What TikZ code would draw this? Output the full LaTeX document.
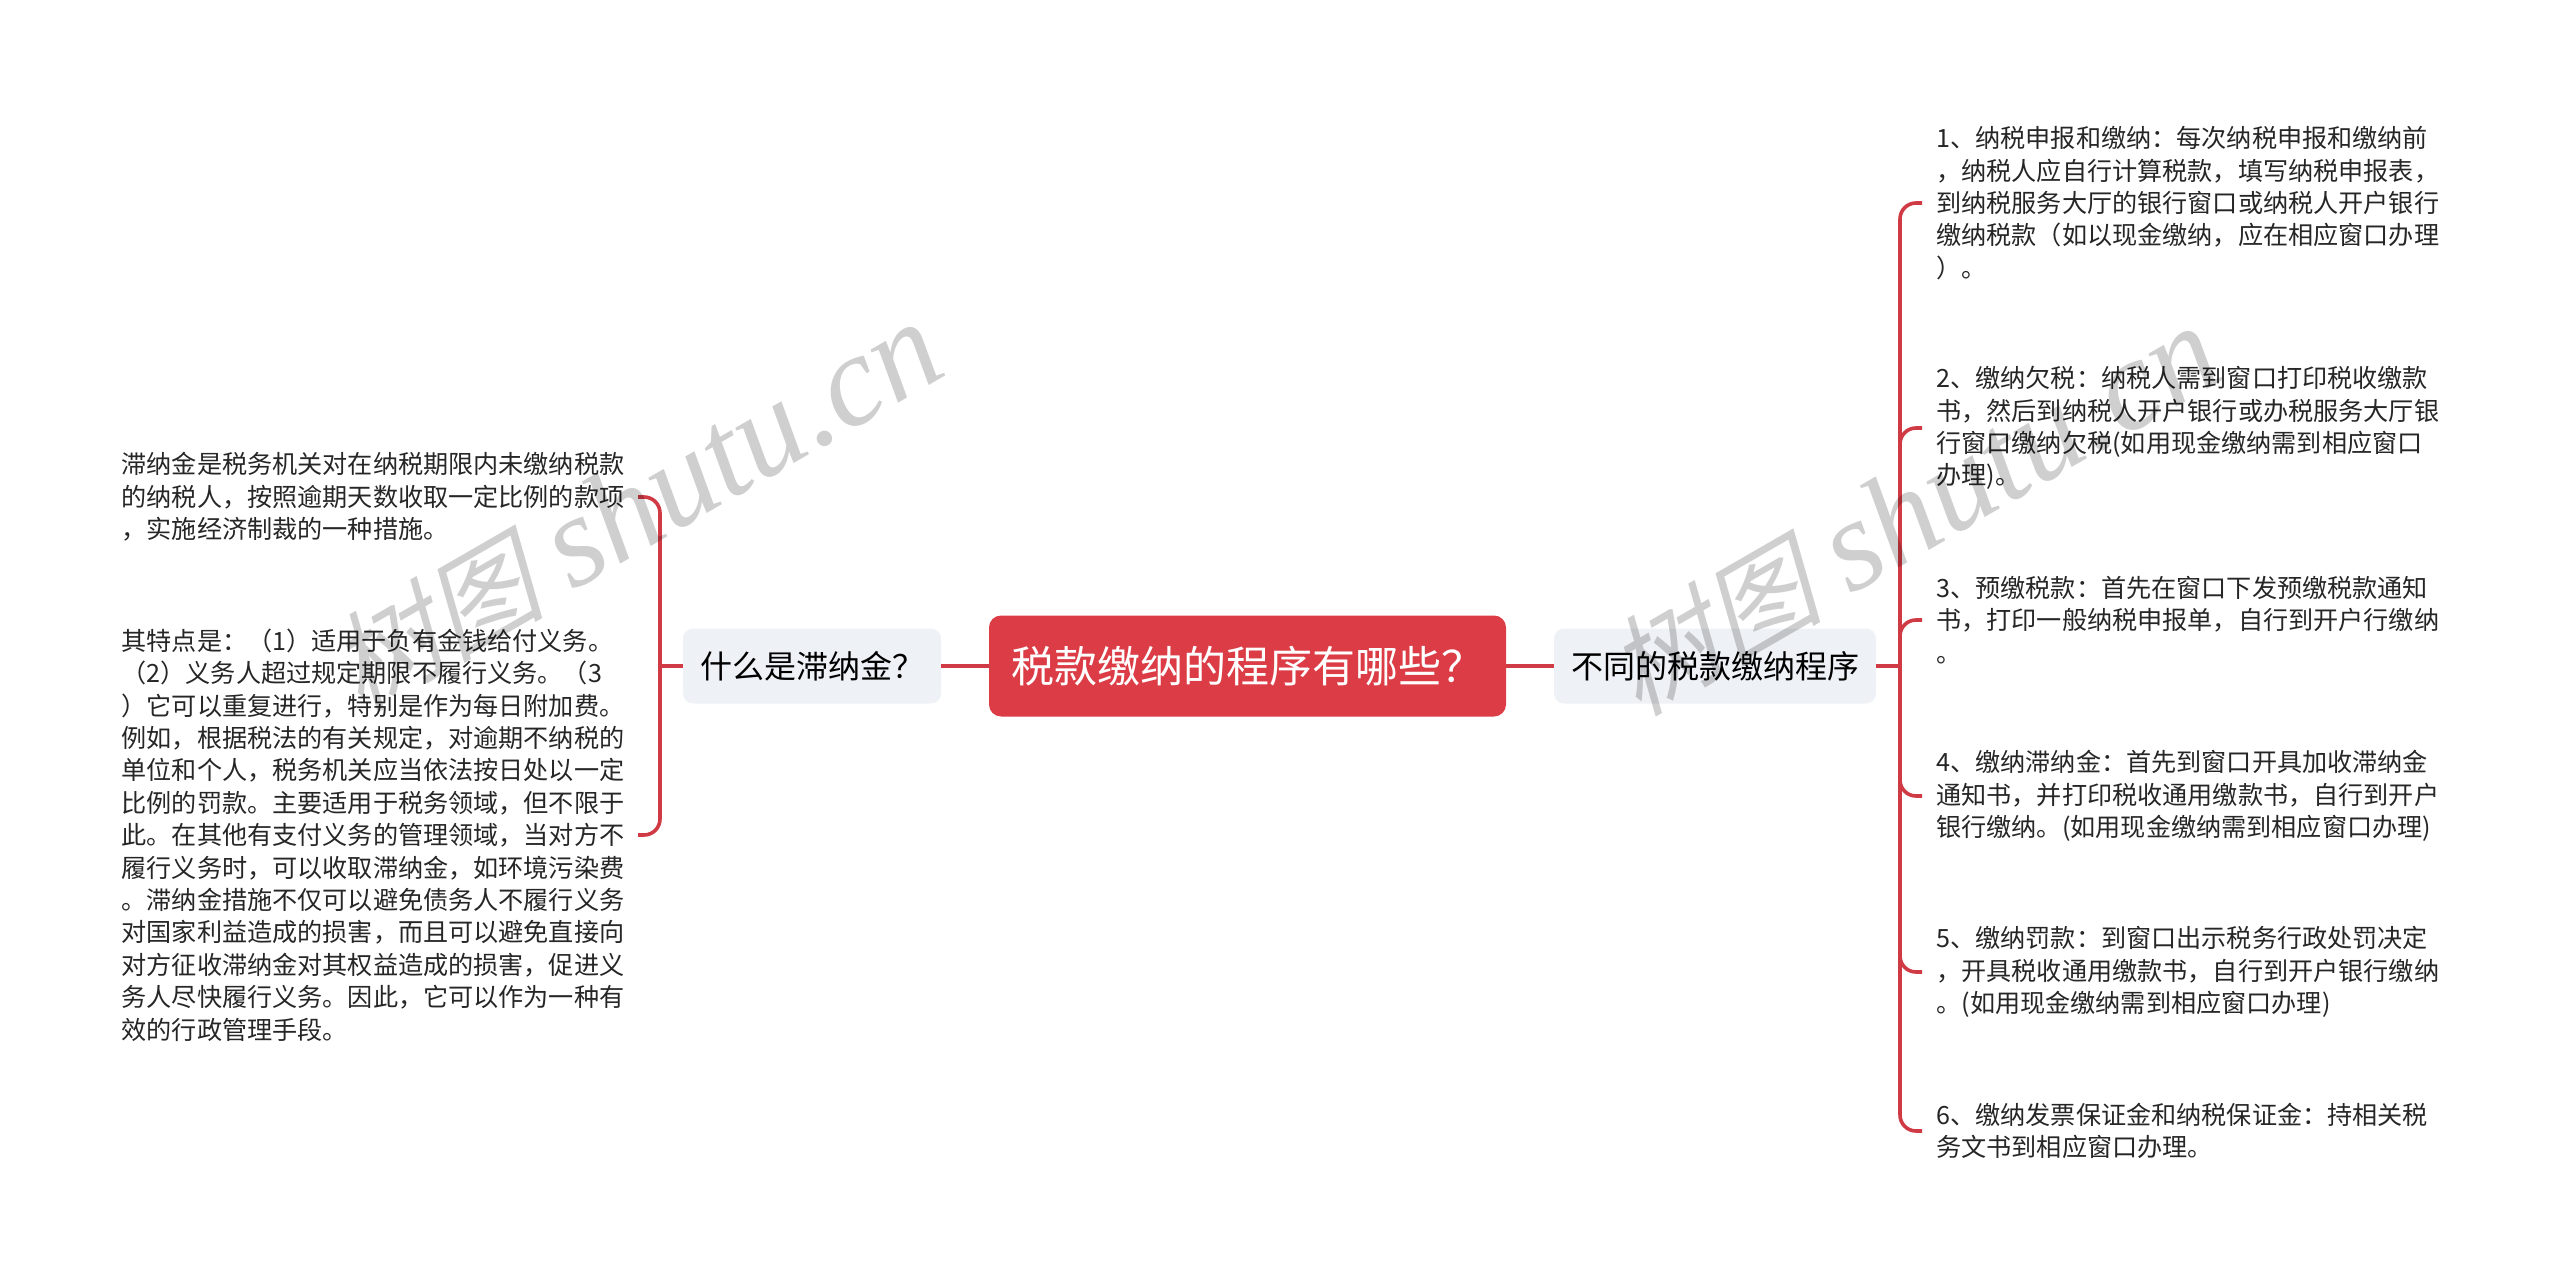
\documentclass[tikz,border=0pt]{standalone}
\usepackage{fontspec}
\setmainfont{Noto Sans CJK SC}
\newfontfamily\wmcjk[FakeSlant=0.25]{Noto Sans CJK SC}
\newfontfamily\wmlat{Liberation Serif}
\definecolor{brred}{HTML}{D03A45}
\definecolor{rootred}{HTML}{DC3C45}
\definecolor{topicbg}{HTML}{EEF1F5}
\definecolor{inktext}{HTML}{262626}
\tikzset{
  branch/.style={draw=brred,line width=1.8pt,rounded corners=8pt},
  rootnode/.style={fill=rootred,text=white,rounded corners=6pt,inner sep=0pt,minimum width=258.5pt,minimum height=50.5pt,font=\fontsize{21.5}{26}\selectfont},
  topicnode/.style={fill=topicbg,text=black,rounded corners=5pt,inner sep=0pt,minimum height=37.5pt,font=\fontsize{16}{20}\selectfont},
  leaf/.style={text=inktext,inner xsep=7pt,inner ysep=0pt,text width=251pt,align=left,font=\fontsize{12.57}{16.2}\selectfont},
  watermark/.style={text=black,text opacity=0.19,rotate=30,inner sep=0pt,anchor=base east,font=\fontsize{65}{70}\selectfont}
}
\begin{document}
\begin{tikzpicture}[x=0.5pt,y=-0.5pt]
\useasboundingbox (0,0) rectangle (2560,1283);
\node[rootnode] (root) at (1247.5,666) {税款缴纳的程序有哪些？};
\node[topicnode,minimum width=129pt] (ltopic) at (812,666) {什么是滞纳金？};
\node[topicnode,minimum width=161pt] (rtopic) at (1715,666) {不同的税款缴纳程序};
\coordinate (ltrunk) at (660,666);
\coordinate (rtrunk) at (1900,666);
\node[leaf,anchor=east] (l1) at (638,497) {滞纳金是税务机关对在纳税期限内未缴纳税款\\的纳税人，按照逾期天数收取一定比例的款项\\，实施经济制裁的一种措施。};
\node[leaf,anchor=east] (l2) at (638,835) {其特点是：（1）适用于负有金钱给付义务。\\（2）义务人超过规定期限不履行义务。（3\\）它可以重复进行，特别是作为每日附加费。\\例如，根据税法的有关规定，对逾期不纳税的\\单位和个人，税务机关应当依法按日处以一定\\比例的罚款。主要适用于税务领域，但不限于\\此。在其他有支付义务的管理领域，当对方不\\履行义务时，可以收取滞纳金，如环境污染费\\。滞纳金措施不仅可以避免债务人不履行义务\\对国家利益造成的损害，而且可以避免直接向\\对方征收滞纳金对其权益造成的损害，促进义\\务人尽快履行义务。因此，它可以作为一种有\\效的行政管理手段。};
\node[leaf,anchor=west] (r1) at (1922,203) {1、纳税申报和缴纳：每次纳税申报和缴纳前\\，纳税人应自行计算税款，填写纳税申报表，\\到纳税服务大厅的银行窗口或纳税人开户银行\\缴纳税款（如以现金缴纳，应在相应窗口办理\\）。};
\node[leaf,anchor=west] (r2) at (1922,428) {2、缴纳欠税：纳税人需到窗口打印税收缴款\\书，然后到纳税人开户银行或办税服务大厅银\\行窗口缴纳欠税(如用现金缴纳需到相应窗口\\办理)。};
\node[leaf,anchor=west] (r3) at (1922,620) {3、预缴税款：首先在窗口下发预缴税款通知\\书，打印一般纳税申报单，自行到开户行缴纳\\。};
\node[leaf,anchor=west] (r4) at (1922,796) {4、缴纳滞纳金：首先到窗口开具加收滞纳金\\通知书，并打印税收通用缴款书，自行到开户\\银行缴纳。(如用现金缴纳需到相应窗口办理)};
\node[leaf,anchor=west] (r5) at (1922,972) {5、缴纳罚款：到窗口出示税务行政处罚决定\\，开具税收通用缴款书，自行到开户银行缴纳\\。(如用现金缴纳需到相应窗口办理)};
\node[leaf,anchor=west] (r6) at (1922,1131) {6、缴纳发票保证金和纳税保证金：持相关税\\务文书到相应窗口办理。};
\draw[branch] (root.west) -- (ltopic.east);
\draw[branch] (root.east) -- (rtopic.west);
\draw[branch] (ltopic.west) -- (ltrunk);
\draw[branch] (rtopic.east) -- (rtrunk);
\foreach \c in {l1,l2} \draw[branch] (ltrunk) |- (\c.east);
\foreach \c in {r1,r2,r3,r4,r5,r6} \draw[branch] (rtrunk) |- (\c.west);
\node[watermark] (wm1) at (951,373) {{\wmcjk\fontsize{54}{60}\selectfont 树图}\hspace{14pt}{\wmlat\itshape shutu.cn}};
\node[watermark] (wm2) at (2229,377) {{\wmcjk\fontsize{54}{60}\selectfont 树图}\hspace{14pt}{\wmlat\itshape shutu.cn}};
\end{tikzpicture}
\end{document}
